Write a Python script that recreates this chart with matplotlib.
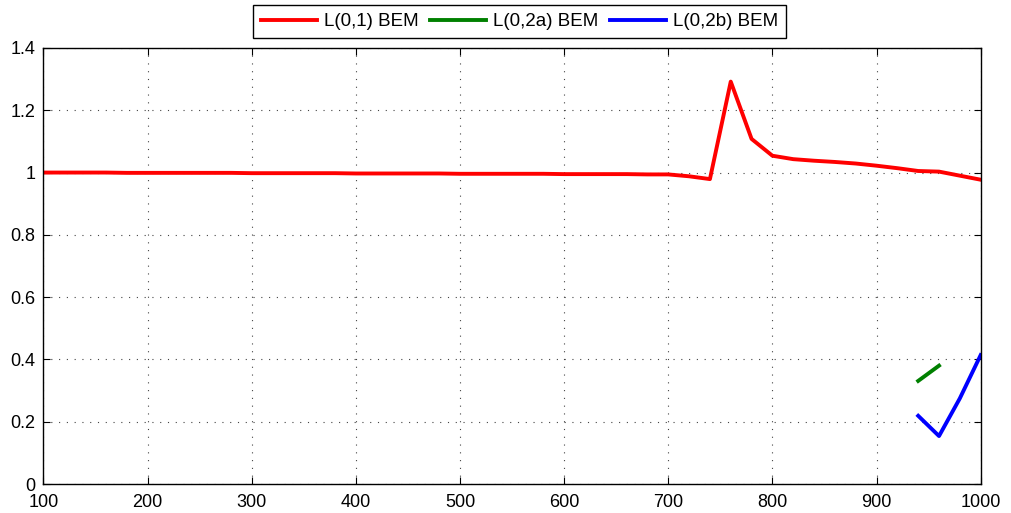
import numpy as np
import matplotlib.pyplot as plt

plt.rcParams['font.family'] = ['Liberation Sans', 'DejaVu Sans']

# frequency axis (step 20)
freq = list(range(100, 1001, 20))

l01 = [1.000, 1.000, 1.000, 1.000, 0.999, 0.999, 0.999, 0.999, 0.999, 0.999,
       0.998, 0.998, 0.998, 0.998, 0.998, 0.997, 0.997, 0.997, 0.997, 0.997,
       0.996, 0.996, 0.996, 0.996, 0.996, 0.995, 0.995, 0.995, 0.995, 0.994,
       0.994, 0.988, 0.979, 1.292, 1.108, 1.054, 1.043, 1.038, 1.034,
       1.029, 1.022, 1.014, 1.005, 1.003, 0.990, 0.977]

f_02a = [940, 960]
l02a = [0.331, 0.380]

f_02b = [940, 960, 980, 1000]
l02b = [0.219, 0.154, 0.275, 0.414]

fig = plt.figure(figsize=(10.11, 5.13), dpi=100)
ax = fig.add_axes([0.043, 0.0565, 0.927, 0.85])

ax.plot(freq, l01, color='#ff0000', linewidth=2.8, label='L(0,1) BEM')
ax.plot(f_02a, l02a, color='#008000', linewidth=2.8, label='L(0,2a) BEM')
ax.plot(f_02b, l02b, color='#0000ff', linewidth=2.8, label='L(0,2b) BEM')

ax.set_xlim(100, 1000)
ax.set_ylim(0, 1.4)
ax.set_xticks(range(100, 1001, 100))
ax.set_yticks([0, 0.2, 0.4, 0.6, 0.8, 1.0, 1.2, 1.4])
ax.set_yticklabels(['0', '0.2', '0.4', '0.6', '0.8', '1', '1.2', '1.4'])
ax.tick_params(direction='in', top=True, right=True, labelsize=13, length=5)
ax.tick_params(axis='x', pad=7)
ax.tick_params(axis='y', pad=6)
ax.grid(True, color='#444444', linestyle=(0, (1, 6)), linewidth=0.8)
for s in ax.spines.values():
    s.set_linewidth(1.0)

fig.legend(loc='center', bbox_to_anchor=(0.514, 0.958), ncol=3,
           fancybox=False, edgecolor='black', framealpha=1,
           fontsize=13.5, handlelength=3.0, columnspacing=0.6,
           borderpad=0.42, handletextpad=0.37)

fig.savefig('out.png', dpi=100)
